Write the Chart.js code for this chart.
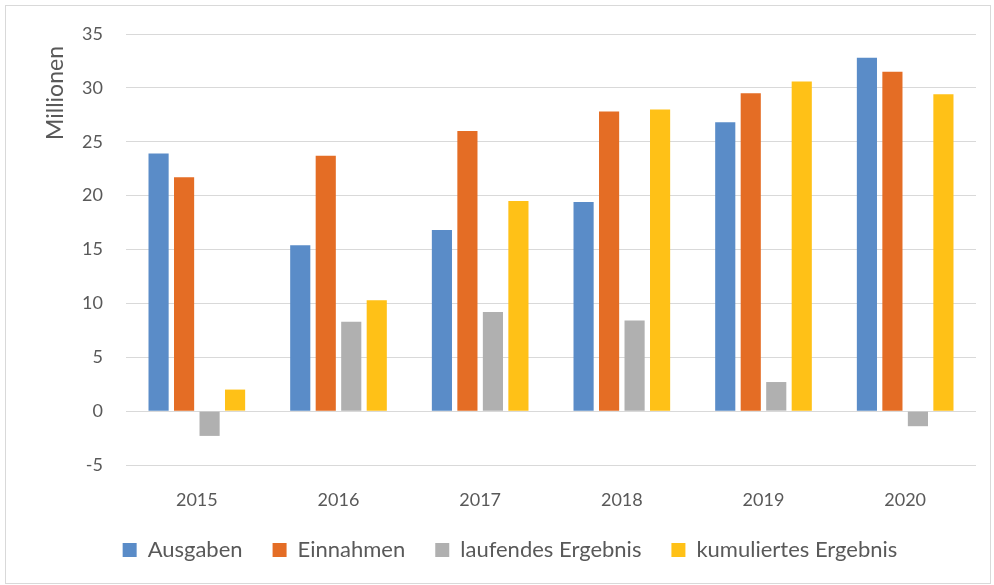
<!DOCTYPE html>
<html><head><meta charset="utf-8">
<script src="https://cdn.jsdelivr.net/npm/chart.js@4.4.1/dist/chart.umd.min.js"></script>
<style>html,body{margin:0;padding:0;background:#fff;}#wrap{width:994px;height:585px;position:relative;}</style>
</head><body><div id="wrap"><canvas id="c" width="994" height="585"></canvas></div>
<script>
const categories = ['2015','2016','2017','2018','2019','2020'];
const ausgaben = [23.9, 15.4, 16.8, 19.4, 26.8, 32.8];
const einnahmen = [21.7, 23.7, 26.0, 27.8, 29.5, 31.5];
const laufendes = [-2.3, 8.3, 9.2, 8.4, 2.7, -1.4];
const kumuliert = [2.0, 10.3, 19.5, 28.0, 30.6, 29.4];
const seriesNames = ['Ausgaben','Einnahmen','laufendes Ergebnis','kumuliertes Ergebnis'];
const yTitle = 'Millionen';

const FONT = 'Lato, "Open Sans", sans-serif';
const TXT = '#595959';

const frame = {
  id: 'frame',
  beforeDraw(chart) {
    const ctx = chart.ctx;
    ctx.save();
    ctx.fillStyle = '#fff';
    ctx.fillRect(0, 0, chart.width, chart.height);
    ctx.strokeStyle = '#D9D9D9';
    ctx.lineWidth = 1;
    ctx.strokeRect(5.5, 5.5, 985, 578);
    ctx.restore();
  },
  afterDraw(chart) {
    const ctx = chart.ctx;
    ctx.save();
    ctx.translate(56, 93);
    ctx.rotate(-Math.PI / 2);
    ctx.fillStyle = TXT;
    ctx.font = '23px ' + FONT;
    ctx.textAlign = 'center';
    ctx.textBaseline = 'middle';
    ctx.fillText(yTitle, 0, 0);
    ctx.restore();
  }
};

new Chart(document.getElementById('c'), {
  type: 'bar',
  data: {
    labels: categories,
    datasets: [
      {label: seriesNames[0], data: ausgaben, backgroundColor: '#5A8CC8'},
      {label: seriesNames[1], data: einnahmen, backgroundColor: '#E46D25'},
      {label: seriesNames[2], data: laufendes, backgroundColor: '#B0B0B0'},
      {label: seriesNames[3], data: kumuliert, backgroundColor: '#FFC117'}
    ]
  },
  options: {
    responsive: false,
    animation: false,
    devicePixelRatio: 1,
    layout: {padding: {left: 44, right: 18, top: 34, bottom: 14}},
    datasets: {bar: {categoryPercentage: 0.72, barPercentage: 0.79}},
    plugins: {
      legend: {
        position: 'bottom',
        labels: {
          boxWidth: 14, boxHeight: 14, padding: 30,
          color: TXT, font: {family: FONT, size: 22}
        }
      },
      tooltip: {enabled: false}
    },
    scales: {
      x: {
        grid: {display: false, drawTicks: false},
        border: {display: false},
        ticks: {color: TXT, font: {family: FONT, size: 18}, padding: 24},
        afterFit(s) { s.height = 44; }
      },
      y: {
        min: -5, max: 35,
        ticks: {stepSize: 5, color: TXT, font: {family: FONT, size: 18}, padding: 23},
        grid: {color: '#D9D9D9', lineWidth: 1, drawTicks: false},
        border: {display: false},
        afterFit(s) { s.width = 82; }
      }
    }
  },
  plugins: [frame]
});
</script>
</body></html>
